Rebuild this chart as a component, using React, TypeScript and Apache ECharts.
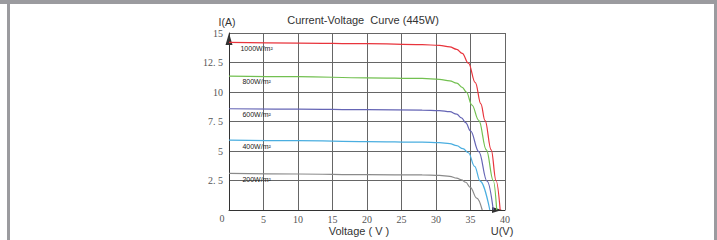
import React, { useEffect, useRef } from "react";
import * as echarts from "echarts";

const titleText = "Current-Voltage  Curve (445W)";
const yTickLabels: Record<string, string> = { "2.5": "2. 5", "5": "5", "7.5": "7. 5", "10": "10", "12.5": "12. 5", "15": "15" };

const irr1000: number[][] = [[0, 14.2], [10, 14.15], [20, 14.1], [28, 14.02], [30.5, 13.95], [32, 13.82], [33, 13.62], [33.8, 13.28], [34.7, 12.45], [35.7, 10.8], [36.5, 9.0], [37.1, 7.6], [38.0, 5.1], [38.7, 2.5], [39.3, 0]];
const irr800: number[][] = [[0, 11.35], [10, 11.3], [20, 11.2], [28, 11.15], [30.5, 11.07], [32, 10.95], [33, 10.75], [33.8, 10.4], [34.4, 10.0], [35.2, 8.9], [36.2, 7.6], [37.3, 5.1], [38.3, 2.5], [38.8, 0]];
const irr600: number[][] = [[0, 8.58], [10, 8.55], [20, 8.5], [28, 8.47], [30.5, 8.43], [32, 8.33], [33, 8.12], [33.7, 7.8], [34.3, 7.4], [35.0, 6.7], [36.2, 4.95], [37.4, 2.45], [38.3, 0]];
const irr400: number[][] = [[0, 5.93], [10, 5.88], [20, 5.8], [28, 5.75], [30.5, 5.71], [32, 5.63], [33, 5.45], [33.9, 5.2], [34.7, 4.85], [35.6, 3.7], [36.4, 2.45], [37.8, 0]];
const irr200: number[][] = [[0, 3.1], [10, 3.05], [20, 3.0], [28, 2.97], [30.5, 2.93], [32, 2.85], [33, 2.7], [33.7, 2.55], [34.3, 2.35], [35.0, 1.9], [35.9, 1.0], [36.7, 0]];

const seriesNames = ["1000W/m²", "800W/m²", "600W/m²", "400W/m²", "200W/m²"];
const seriesData = [irr1000, irr800, irr600, irr400, irr200];
const seriesColors = ["#e8343c", "#72c050", "#6565b5", "#4aaee0", "#8a8a8a"];
const labelAnchors: number[][] = [[4, 13.7], [4, 10.85], [4, 8.1], [4, 5.4], [4, 2.6]];

export default function App() {
  const ref = useRef<HTMLDivElement>(null);
  useEffect(() => {
    if (!ref.current) return;
    const chart = echarts.init(ref.current, null, { renderer: "svg" });
    const gridColor = "#666";
    chart.setOption({
      animation: false,
      backgroundColor: "#fff",
      grid: { left: 229, top: 33, width: 276, height: 177, containLabel: false },
      xAxis: {
        type: "value",
        min: 0,
        max: 40,
        interval: 5,
        axisLine: { show: true, lineStyle: { color: "#333", width: 1 }, symbol: ["none", "triangle"], symbolSize: [6, 10], symbolOffset: [0, -8] },
        axisTick: { show: false },
        splitLine: { show: true, lineStyle: { color: gridColor, width: 1 } },
        axisLabel: {
          margin: 4,
          fontFamily: "Liberation Serif",
          fontSize: 10,
          color: "#555",
          formatter: (v: number) => (v === 0 ? "" : String(v)),
        },
      },
      yAxis: {
        type: "value",
        min: 0,
        max: 15,
        interval: 2.5,
        axisLine: { show: true, lineStyle: { color: "#333", width: 1 }, symbol: ["none", "triangle"], symbolSize: [7, 12], symbolOffset: [0, -6] },
        axisTick: { show: false },
        splitLine: { show: true, lineStyle: { color: gridColor, width: 1 } },
        axisLabel: {
          margin: 6,
          fontFamily: "Liberation Serif",
          fontSize: 10,
          color: "#555",
          formatter: (v: number) => (v === 0 ? "" : yTickLabels[String(v)] ?? String(v)),
        },
      },
      graphic: [
        { type: "rect", shape: { x: 0, y: 0, width: 717, height: 4 }, style: { fill: "#9b9b9f" }, silent: true },
        { type: "rect", shape: { x: 7, y: 0, width: 3, height: 240 }, style: { fill: "#9b9b9f" }, silent: true },
        { type: "rect", shape: { x: 714, y: 0, width: 3, height: 240 }, style: { fill: "#9b9b9f" }, silent: true },
        { type: "text", x: 363, y: 20, style: { text: titleText, fontFamily: "Liberation Sans", fontSize: 11, fill: "#333", align: "center", verticalAlign: "middle" } },
        { type: "text", x: 227, y: 22, style: { text: "I(A)", fontFamily: "Liberation Sans", fontSize: 10.5, fill: "#333", align: "center", verticalAlign: "middle" } },
        { type: "text", x: 359, y: 231, style: { text: "Voltage ( V )", fontFamily: "Liberation Sans", fontSize: 11, fill: "#333", align: "center", verticalAlign: "middle" } },
        { type: "text", x: 502, y: 231, style: { text: "U(V)", fontFamily: "Liberation Sans", fontSize: 11, fill: "#333", align: "center", verticalAlign: "middle" } },
        { type: "text", x: 222, y: 218, style: { text: "0", fontFamily: "Liberation Serif", fontSize: 10, fill: "#555", align: "center", verticalAlign: "middle" } },
      ],
      series: seriesData.map((d, i) => ({
        type: "line",
        name: seriesNames[i],
        data: d,
        smooth: 0.4,
        smoothMonotone: "x",
        showSymbol: false,
        lineStyle: { color: seriesColors[i], width: 1.2 },
        itemStyle: { color: seriesColors[i] },
        markPoint: {
          symbol: "circle",
          symbolSize: 0,
          silent: true,
          data: [{ coord: labelAnchors[i] }],
          label: {
            show: true,
            position: "inside",
            formatter: seriesNames[i],
            fontFamily: "Liberation Sans",
            fontSize: 7,
            color: "#222",
          },
        },
      })),
    });
    return () => chart.dispose();
  }, []);
  return <div ref={ref} style={{ position: "fixed", left: 0, top: 0, width: 717, height: 240 }} />;
}
